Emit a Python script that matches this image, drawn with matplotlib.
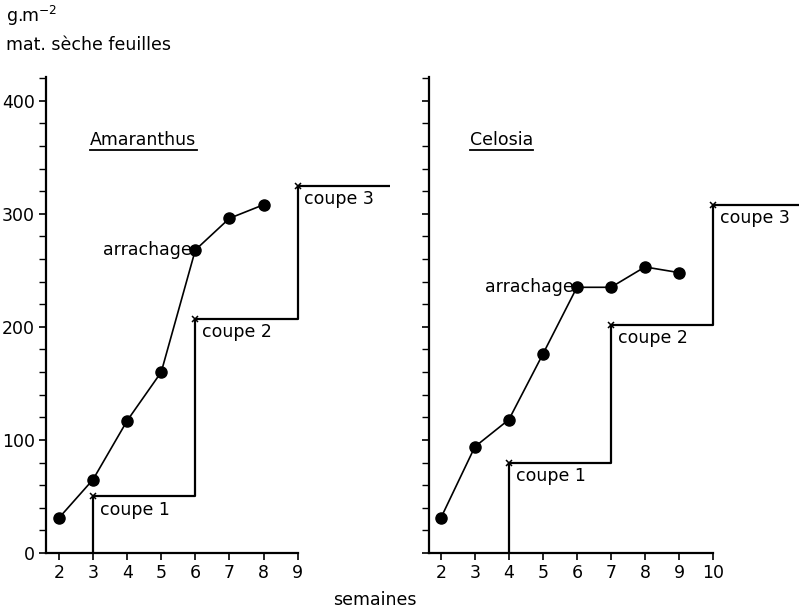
import matplotlib
matplotlib.use("Agg")
import matplotlib.pyplot as plt
from matplotlib.lines import Line2D

plt.rcParams['font.family'] = ['DejaVu Sans']

# ---- data ----
weeks_am = [2, 3, 4, 5, 6, 7, 8]
leaves_am = [31, 65, 117, 160, 268, 296, 308]
cut_weeks_am = [3, 6, 9]
cut_vals_am = [50, 207, 325]
cut_end_am = 11.7

weeks_ce = [2, 3, 4, 5, 6, 7, 8, 9]
leaves_ce = [31, 94, 118, 176, 235, 235, 253, 248]
cut_weeks_ce = [4, 7, 10]
cut_vals_ce = [80, 202, 308]
cut_end_ce = 12.6

xticks_am = [2, 3, 4, 5, 6, 7, 8, 9]
xticks_ce = [2, 3, 4, 5, 6, 7, 8, 9, 10]
yticks_major = [0, 100, 200, 300, 400]
yticks_minor = list(range(0, 421, 20))
cut_labels = ["coupe 1", "coupe 2", "coupe 3"]

W, H = 799, 611
fig = plt.figure(figsize=(W / 100, H / 100), dpi=100)

def px_axes(x0, x1, ytop, ybot):
    return fig.add_axes([x0 / W, (H - ybot) / H, (x1 - x0) / W, (ybot - ytop) / H])

ax1 = px_axes(46, 390, 77, 553)
ax2 = px_axes(429, 799, 77, 553)

FS = 12.5

def setup(ax, xlim, xticks, show_ylabels):
    ax.set_xlim(*xlim)
    ax.set_ylim(0, 421)
    for s in ['top', 'right']:
        ax.spines[s].set_visible(False)
    ax.spines['left'].set_linewidth(1.6)
    ax.spines['bottom'].set_linewidth(1.6)
    ax.spines['bottom'].set_bounds(xlim[0], xticks[-1])
    ax.set_xticks(xticks)
    ax.set_xticklabels([str(t) for t in xticks], fontsize=FS)
    ax.set_yticks(yticks_major)
    ax.set_yticks(yticks_minor, minor=True)
    if show_ylabels:
        ax.set_yticklabels([str(t) for t in yticks_major], fontsize=FS)
    else:
        ax.set_yticklabels([])
    ax.tick_params(axis='both', which='major', direction='out', length=5, width=1.2, pad=3)
    ax.tick_params(axis='y', which='minor', direction='out', length=5, width=1.0)
    ax.patch.set_alpha(0)

def steps(ax, cw, cv, xend):
    xs = [cw[0], cw[0]]
    ys = [0, cv[0]]
    for i in range(len(cw)):
        nx = cw[i + 1] if i + 1 < len(cw) else xend
        xs.append(nx)
        ys.append(cv[i])
        if i + 1 < len(cw):
            xs.append(nx)
            ys.append(cv[i + 1])
    ax.plot(xs, ys, color='black', lw=1.6, clip_on=True)
    ax.plot(cw, cv, linestyle='none', marker='x', color='black', ms=5, mew=1.1)

setup(ax1, (1.62, 11.71), xticks_am, True)
setup(ax2, (1.65, 12.53), xticks_ce, False)

ax1.plot(weeks_am, leaves_am, color='black', lw=1.2, marker='o', ms=8)
ax2.plot(weeks_ce, leaves_ce, color='black', lw=1.2, marker='o', ms=8)
steps(ax1, cut_weeks_am, cut_vals_am, cut_end_am)
steps(ax2, cut_weeks_ce, cut_vals_ce, cut_end_ce)

for ax, cw, cv in [(ax1, cut_weeks_am, cut_vals_am), (ax2, cut_weeks_ce, cut_vals_ce)]:
    for w, v, lab in zip(cw, cv, cut_labels):
        ax.text(w + 0.2, v - 4, lab, fontsize=FS, ha='left', va='top')

ax1.text(weeks_am[4] - 0.1, leaves_am[4], "arrachage", fontsize=FS, ha='right', va='center')
ax2.text(weeks_ce[4] - 0.1, leaves_ce[4], "arrachage", fontsize=FS, ha='right', va='center')

t1 = ax1.text(2.92, 365, "Amaranthus", fontsize=FS, ha='left', va='center')
t2 = ax2.text(2.85, 365, "Celosia", fontsize=FS, ha='left', va='center')

fig.text(6 / W, 1 - 16 / H, r"g.m$^{-2}$", fontsize=FS, ha='left', va='center')
fig.text(6 / W, 1 - 45 / H, "mat. sèche feuilles", fontsize=FS, ha='left', va='center')
fig.text(375 / W, 1 - 600 / H, "semaines", fontsize=FS, ha='center', va='center')

fig.canvas.draw()
r = fig.canvas.get_renderer()
for t in (t1, t2):
    bb = t.get_window_extent(renderer=r)
    y = bb.y0 - 1
    fig.add_artist(Line2D([bb.x0 / W, bb.x1 / W], [y / H, y / H],
                          transform=fig.transFigure, color='black', lw=1.3))

fig.savefig("out.png", dpi=100)
